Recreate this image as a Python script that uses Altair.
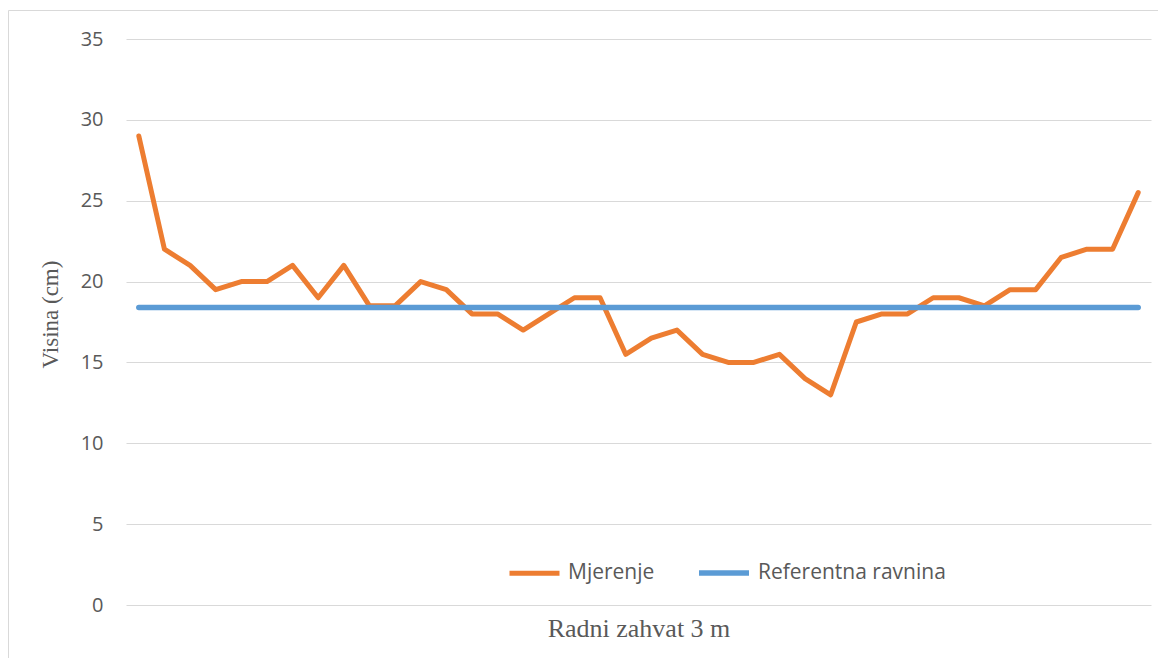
import altair as alt
import pandas as pd

# ---- data ----
positions = list(range(1, 41))
mjerenje = [29, 22, 21, 19.5, 20, 20, 21, 19, 21, 18.5,
            18.5, 20, 19.5, 18, 18, 17, 18, 19, 19, 15.5,
            16.5, 17, 15.5, 15, 15, 15.5, 14, 13, 17.5, 18,
            18, 19, 19, 18.5, 19.5, 19.5, 21.5, 22, 22, 25.5]
referentna_value = 18.4
referentna = [referentna_value] * len(positions)
series_names = ["Mjerenje", "Referentna ravnina"]
series_colors = ["#ED7D31", "#5B9BD5"]
series_widths = [5, 5.5]
y_ticks = [0, 5, 10, 15, 20, 25, 30, 35]
x_title = "Radni zahvat 3 m"
y_title = "Visina (cm)"

df = pd.DataFrame({
    "pos": positions + positions,
    "value": mjerenje + referentna,
    "series": [series_names[0]] * len(positions) + [series_names[1]] * len(positions),
    "order": [0] * len(positions) + [1] * len(positions),
})

PLOT_W, PLOT_H = 1025, 566
PAD_L, PAD_T = 118, 31
TOTAL_W, TOTAL_H = 1150, 650

lines = alt.Chart(df).mark_line(strokeCap="round", strokeJoin="round").encode(
    x=alt.X("pos:O",
            scale=alt.Scale(padding=0.5),
            axis=alt.Axis(labels=False, ticks=False, domain=False, grid=False,
                          title=x_title, titleFont="Liberation Serif",
                          titleFontSize=26, titleFontWeight="normal",
                          titleColor="#595959", titleBaseline="alphabetic",
                          titleY=31, titleX=PLOT_W / 2, titleAlign="center")),
    y=alt.Y("value:Q",
            scale=alt.Scale(domain=[0, 35], nice=False, zero=True),
            axis=alt.Axis(values=y_ticks, labelFont="Open Sans", labelFontSize=20,
                          labelColor="#595959", labelPadding=23, ticks=False,
                          tickSize=0, domain=False, grid=True,
                          gridColor="#d9d9d9", gridWidth=1,
                          title=y_title, titleFont="Liberation Serif",
                          titleFontSize=23, titleFontWeight="normal",
                          titleColor="#595959", titleAngle=270,
                          titleAlign="center", titleBaseline="bottom",
                          titleX=-64, titleY=275)),
    color=alt.Color("series:N",
                    scale=alt.Scale(domain=series_names, range=series_colors),
                    legend=alt.Legend(orient="none", legendX=381, legendY=506,
                                      direction="horizontal", title=None,
                                      symbolType="stroke", symbolSize=2500,
                                      symbolStrokeWidth=5, labelFont="Open Sans",
                                      labelFontSize=21, labelColor="#595959",
                                      labelOffset=6, columnPadding=33,
                                      labelLimit=400, padding=0)),
    strokeWidth=alt.StrokeWidth("series:N",
                                scale=alt.Scale(domain=series_names, range=series_widths),
                                legend=None),
    order=alt.Order("order:Q"),
)

frame = alt.Chart(pd.DataFrame({"k": [0]})).mark_rect(
    fill="white", fillOpacity=0, stroke="#d9d9d9", strokeWidth=1
).encode(
    x=alt.value(0.5 - PAD_L), x2=alt.value(TOTAL_W + 50),
    y=alt.value(2.5 - PAD_T), y2=alt.value(TOTAL_H + 50),
)

chart = alt.layer(frame, lines).properties(
    width=PLOT_W, height=PLOT_H,
    autosize=alt.AutoSizeParams(type="none"),
    padding={"left": PAD_L, "top": PAD_T,
             "right": TOTAL_W - PAD_L - PLOT_W,
             "bottom": TOTAL_H - PAD_T - PLOT_H},
    background="white",
).configure_view(stroke="transparent")

chart.save("out.html", embed_options={"renderer": "svg", "actions": False})
